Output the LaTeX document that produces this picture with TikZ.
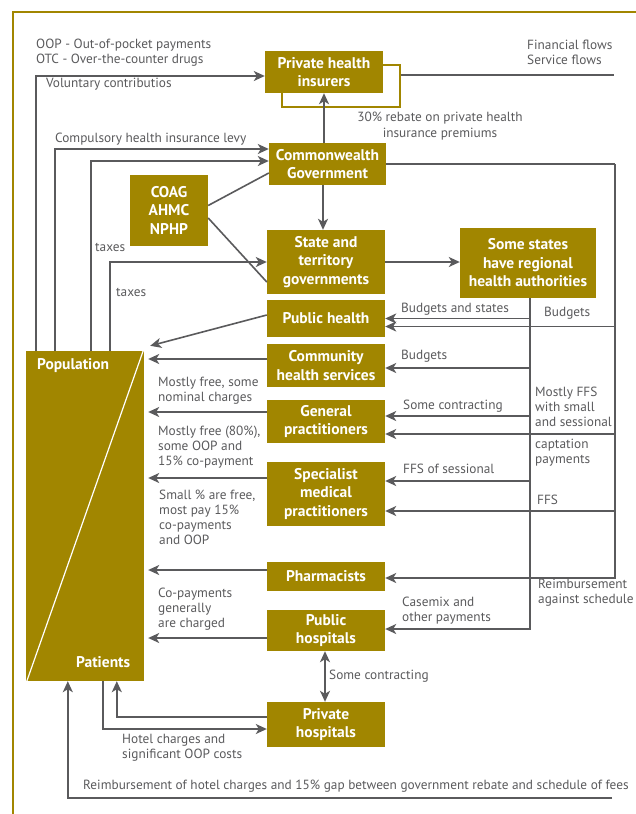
\documentclass[tikz,border=0pt]{standalone}
\usepackage{fontspec}
\setmainfont{PT Sans}
\usetikzlibrary{arrows.meta,positioning,calc}
\definecolor{boxgold}{RGB}{161,134,0}
\definecolor{flowgray}{RGB}{90,90,92}
\tikzset{
  actor/.style={fill=boxgold,text=white,font=\bfseries\fontsize{15.5}{18.5}\selectfont,align=center,inner sep=0pt},
  flow/.style={draw=flowgray,line width=1.6pt,->},
  link/.style={draw=flowgray,line width=1.6pt},
  note/.style={text=flowgray,font=\fontsize{13.3}{15.2}\selectfont,align=left,inner sep=0pt,anchor=west},
}

\begin{document}
\begin{tikzpicture}[x=1pt,y=-1pt,>={Stealth[length=11pt,width=10pt,inset=3pt]}]
  \useasboundingbox (0,0) rectangle (636,814);
  \draw[boxgold,line width=2.5pt] (13,814) -- (13,12) -- (636,12);
  \node[note] (abbr) at (36,52.5) {OOP - Out-of-pocket payments\\OTC - Over-the-counter drugs};
  \node[note] (legend) at (527,52.5) {Financial flows\\Service flows};

  \node[draw=boxgold,line width=1.2pt,minimum width=118pt,minimum height=42pt] (insback) at (341,86) {};
  \node[actor,minimum width=118pt,minimum height=42pt] (ins) at (324,72) {Private health\\insurers};
  \coordinate (legR) at (614,75);
  \draw[link] ([yshift=11pt]insback.east) -- (legR);
  \node[actor,minimum width=117pt,minimum height=42pt] (cw) at (327.5,164) {Commonwealth\\Government};
  \node[actor,minimum width=78pt,minimum height=71pt] (coag) at (169,210.5) {COAG\\AHMC\\NPHP};
  \node[actor,minimum width=118pt,minimum height=64pt] (state) at (326,262) {State and\\territory\\governments};
  \node[actor,minimum width=136pt,minimum height=70pt] (rha) at (528,263) {Some states\\have regional\\health authorities};
  \node[actor,minimum width=118pt,minimum height=37pt] (ph) at (326,318.5) {Public health};
  \node[actor,minimum width=118pt,minimum height=43pt] (chs) at (326,365.5) {Community\\health services};
  \node[actor,minimum width=118pt,minimum height=43pt] (gp) at (326,421.5) {General\\practitioners};
  \node[actor,minimum width=118pt,minimum height=64pt] (smp) at (326,494) {Specialist\\medical\\practitioners};
  \node[actor,minimum width=118pt,minimum height=29pt] (phar) at (326,576.5) {Pharmacists};
  \node[actor,minimum width=118pt,minimum height=41pt] (puh) at (326,630.5) {Public\\hospitals};
  \node[actor,minimum width=118pt,minimum height=45pt] (prh) at (326,724.5) {Private\\hospitals};
  \node[fill=boxgold,minimum width=118pt,minimum height=330pt,inner sep=0pt] (pop) at (85,516) {};
  \draw[white,line width=1.2pt] ([xshift=-1pt]pop.north east) -- ([xshift=1pt]pop.south west);
  \node[actor,anchor=west] (popl) at (37,366) {Population};
  \node[actor,anchor=west] (patl) at (76,662) {Patients};

  \draw[flow] ([xshift=10pt]pop.north west) |- ([yshift=-4pt]ins.west);
  \draw[flow] ([xshift=29pt]pop.north west) |- ([yshift=15pt]cw.west);
  \draw[flow] ([xshift=65pt]pop.north west) |- ([yshift=3pt]cw.west);
  \draw[flow] ([xshift=84pt]pop.north west) |- (state.west);
  \draw[link] ([yshift=5pt]coag.east) -- ([yshift=-9pt]cw.west);
  \draw[link] ([yshift=-7.5pt]coag.east) -- ([yshift=-20pt]state.west);
  \draw[flow] (ins.south |- cw.north) -- (ins.south);
  \draw[flow] ([xshift=-3pt]state.north |- cw.south) -- ([xshift=-3pt]state.north);
  \draw[flow] (state.east) -- (state.east -| rha.west);
  \node[note] (vol) at (46,84) {Voluntary contributios};
  \node[note] (levy) at (55,139) {Compulsory health insurance levy};
  \node[note,anchor=center,align=center] (rebate) at (440,126) {30\% rebate on private health\\insurance premiums};
  \node[note] (taxcw) at (95,247) {taxes};
  \node[note] (taxst) at (116,292) {taxes};

  \coordinate (cwR) at (615,164);
  \draw[link] (cw.east) -- (cwR);
  \draw[flow] (cwR) |- ([yshift=-8pt]ph.east);
  \draw[flow] (cwR) |- ([yshift=-12.5pt]gp.east);
  \draw[flow] (cwR) |- ([yshift=-17pt]smp.east);
  \draw[flow] (cwR) |- ([yshift=-1.5pt]phar.east);
  \coordinate (rhaB) at ([xshift=2pt]rha.south);
  \draw[flow] (rhaB) |- (ph.east);
  \draw[flow] (rhaB) |- ([yshift=-2.5pt]chs.east);
  \draw[flow] (rhaB) |- ([yshift=5.5pt]gp.east);
  \draw[flow] (rhaB) |- ([yshift=13pt]smp.east);
  \draw[flow] (rhaB) |- ([yshift=1.5pt]puh.east);
  \node[note] (bud1) at (544,313) {Budgets};
  \node[note] (budst) at (401,309) {Budgets and states};
  \node[note] (bud2) at (401,356) {Budgets};
  \node[note] (contr1) at (403,406) {Some contracting};
  \node[note] (ffs1) at (535,407) {Mostly FFS\\with small\\and sessional};
  \node[note] (capt) at (535,452.5) {captation\\payments};
  \node[note] (ffs2) at (403,469) {FFS of sessional};
  \node[note] (ffs3) at (537,500) {FFS};
  \node[note] (sched) at (538,593) {Reimbursement\\against schedule};
  \node[note] (casemix) at (402,610.5) {Casemix and\\other payments};

  \coordinate (popTip) at ([shift={(6pt,5pt)}]pop.north east);
  \draw[flow] ([yshift=3.5pt]ph.west) -- (popTip);
  \draw[flow,shorten >=4pt] ([yshift=6.5pt]chs.west) -- ([yshift=6.5pt]chs.west -| pop.east);
  \draw[flow,shorten >=4pt] ([yshift=9.5pt]gp.west) -- ([yshift=9.5pt]gp.west -| pop.east);
  \draw[flow,shorten >=4pt] ([yshift=16pt]smp.west) -- ([yshift=16pt]smp.west -| pop.east);
  \draw[flow,shorten >=4pt] ([yshift=6.5pt]phar.west) -- ([yshift=6.5pt]phar.west -| pop.east);
  \draw[flow,shorten >=4pt] ([yshift=-7.5pt]puh.west) -- ([yshift=-7.5pt]puh.west -| pop.east);
  \node[note] (gpcost) at (158,390.5) {Mostly free, some\\nominal charges};
  \node[note] (smpcost) at (158,447) {Mostly free (80\%),\\some OOP and\\15\% co-payment};
  \node[note] (pharcost) at (159,517.5) {Small \% are free,\\most pay 15\%\\co-payments\\and OOP};
  \node[note] (puhcost) at (158,609) {Co-payments\\generally\\are charged};

  \draw[flow,<->] ([xshift=-1pt]puh.south) -- ([xshift=-1pt]prh.north);
  \node[note] (contr2) at (329,676) {Some contracting};
  \draw[flow] ([yshift=7.5pt]prh.west) -| ([xshift=91pt]pop.south west);
  \draw[flow] ([xshift=77pt]pop.south west) |- ([yshift=-4.5pt]prh.west);
  \node[note] (hotel) at (122,747.5) {Hotel charges and\\significant OOP costs};
  \coordinate (gapR) at (612,798);
  \draw[flow] (gapR) -| ([xshift=42pt]pop.south west);
  \node[note] (gap) at (83,786) {Reimbursement of hotel charges and 15\% gap between government rebate and schedule of fees};
\end{tikzpicture}
\end{document}
